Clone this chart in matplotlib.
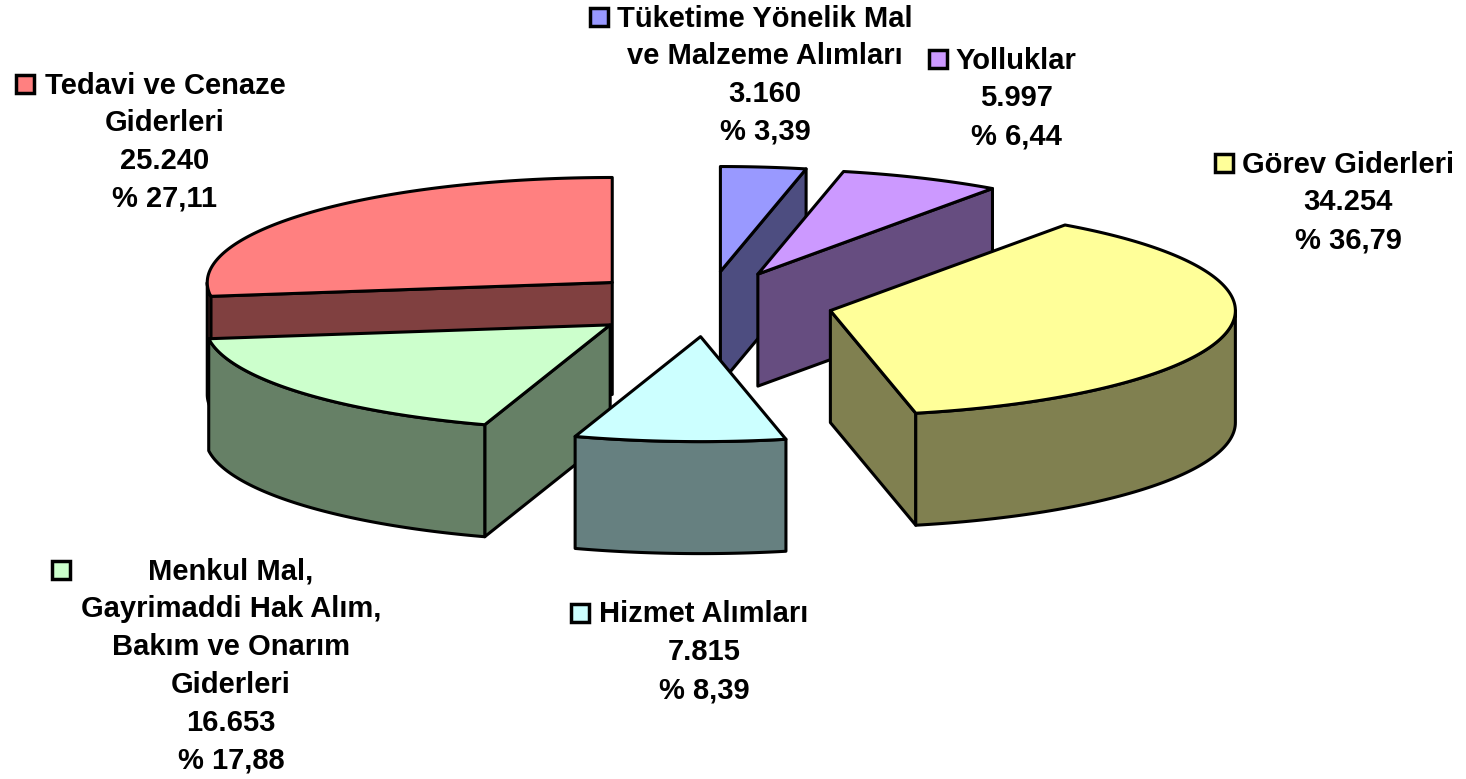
import numpy as np
import matplotlib
matplotlib.use('Agg')
import matplotlib.pyplot as plt
from matplotlib.patches import Polygon, Rectangle

# dilimler saat yonunde, 12 hizasindan basliyor
names = [['Tüketime Yönelik Mal', 've Malzeme Alımları'],
         ['Yolluklar'],
         ['Görev Giderleri'],
         ['Hizmet Alımları'],
         ['Menkul Mal,', 'Gayrimaddi Hak Alım,', 'Bakım ve Onarım', 'Giderleri'],
         ['Tedavi ve Cenaze', 'Giderleri']]
values = [3160, 5997, 34254, 7815, 16653, 25240]
value_labels = ['3.160', '5.997', '34.254', '7.815', '16.653', '25.240']
percents = ['% 3,39', '% 6,44', '% 36,79', '% 8,39', '% 17,88', '% 27,11']
top_colors = ['#9999FF', '#CC99FF', '#FFFF99', '#CCFFFF', '#CCFFCC', '#FF8080']
side_colors = ['#4D4D80', '#664D80', '#808050', '#668080', '#668066', '#804040']

# etiket yerleri (piksel): orta x, ilk satir y, kutu sol x
label_x = [765, 1016, 1348, 704, 231, 165]
label_y = [17, 59, 163, 613, 570, 84]
key_x = [590, 929, 1215, 571, 52, 16]
draw_order = [5, 0, 1, 2, 4, 3]

cx, cy = 707, 304
rx, ry = 405, 105
depth = 112
explode = 0.311
lw = 2.2
line_step = 37.8

fig = plt.figure(figsize=(14.66, 7.79), dpi=100)
ax = fig.add_axes([0, 0, 1, 1])
ax.set_xlim(0, 1466)
ax.set_ylim(779, 0)
ax.axis('off')

edges = np.concatenate([[0], np.cumsum(values)]) / sum(values) * 2 * np.pi


def rim(a, x0, y0):
    return x0 + rx * np.sin(a), y0 - ry * np.cos(a)


def poly(pts, color, z):
    ax.add_patch(Polygon(pts, closed=True, facecolor=color, edgecolor='black',
                         linewidth=lw, joinstyle='round', zorder=z))


for n, i in enumerate(draw_order):
    a1, a2 = edges[i], edges[i + 1]
    mid = (a1 + a2) / 2
    x0 = cx + explode * rx * np.sin(mid)
    y0 = cy - explode * ry * np.cos(mid)
    z = n * 10 + 1

    # boyali yan yuzler, sadece bize bakanlar
    for a, visible in [(a1, np.sin(a1) < -1e-6), (a2, np.sin(a2) > 1e-6)]:
        if visible:
            xr, yr = rim(a, x0, y0)
            poly([(x0, y0), (xr, yr), (xr, yr + depth), (x0, y0 + depth)], side_colors[i], z)

    # dis duvar
    w1, w2 = max(a1, np.pi / 2), min(a2, 3 * np.pi / 2)
    if w2 > w1:
        t = np.linspace(w1, w2, 80)
        xs, ys = rim(t, x0, y0)
        pts = list(zip(xs, ys)) + list(zip(xs[::-1], ys[::-1] + depth))
        poly(pts, side_colors[i], z + 1)

    # ust yuz
    t = np.linspace(a1, a2, 200)
    xs, ys = rim(t, x0, y0)
    poly([(x0, y0)] + list(zip(xs, ys)), top_colors[i], z + 2)

for i in range(len(values)):
    lines = names[i] + [value_labels[i], percents[i]]
    for k, line in enumerate(lines):
        ax.text(label_x[i], label_y[i] + 1.5 + k * line_step, line, ha='center', va='center',
                fontsize=21, fontweight='bold', family='Liberation Sans', color='black', zorder=100)
    ax.add_patch(Rectangle((key_x[i], label_y[i] - 9), 18, 18, facecolor=top_colors[i],
                           edgecolor='black', linewidth=2.5, zorder=100))

fig.savefig('out.png', dpi=100)
